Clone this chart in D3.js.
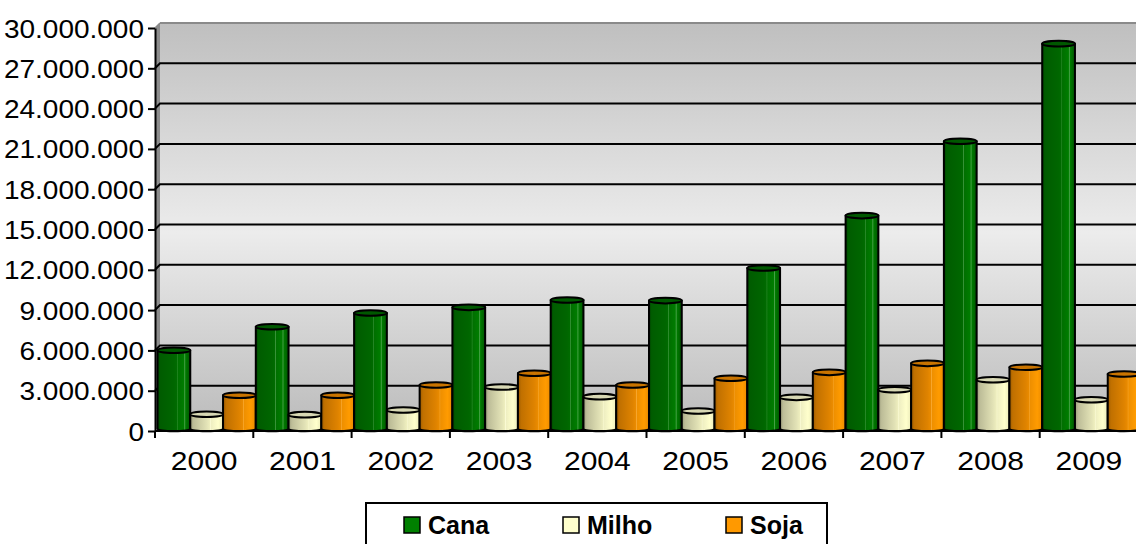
<!DOCTYPE html>
<html>
<head>
<meta charset="utf-8">
<script src="https://cdn.jsdelivr.net/npm/d3@7"></script>
<style>
  html, body { margin: 0; padding: 0; background: #fff; }
  svg { display: block; font-family: "Liberation Sans", Arial, sans-serif; }
</style>
</head>
<body>
<svg id="chart" width="1136" height="544"></svg>
<script>
// data
const years = ["2000", "2001", "2002", "2003", "2004", "2005", "2006", "2007", "2008", "2009"];
const series = ["Cana", "Milho", "Soja"];
const cana  = [5820000, 7580000, 8600000, 9020000, 9570000, 9520000, 11950000, 15850000, 21380000, 28650000];
const milho = [1060000, 1030000, 1380000, 3090000, 2370000, 1300000, 2320000, 2890000, 3630000, 2140000];
const soja  = [2470000, 2470000, 3240000, 4110000, 3240000, 3740000, 4180000, 4850000, 4560000, 4060000];
const yTicks = [0, 3000000, 6000000, 9000000, 12000000, 15000000, 18000000, 21000000, 24000000, 27000000, 30000000];

const values = [cana, milho, soja];
const colors = { Cana: "#008000", Milho: "#ffffcc", Soja: "#ff9900" };

const svg = d3.select("#chart");
const defs = svg.append("defs");

const plotLeft = 155, plotBottom = 431, plotTop = 28;
const depth = 5;          // 3D wall depth
const half = depth / 2;   // bars sit in the middle of the depth

const xScale = d3.scaleBand().domain(years).range([plotLeft, plotLeft + 98.3 * years.length]).padding(0);
const xSub = d3.scaleBand().domain(series).range([0, xScale.bandwidth()]).padding(0);
const yScale = d3.scaleLinear().domain([0, 30000000]).range([plotBottom, plotTop]);
const xEnd = xScale.range()[1];

const fmt = d3.formatLocale({ decimal: ",", thousands: ".", grouping: [3], currency: ["R$", ""] }).format(",.0f");

// back wall gradient
const wallGrad = defs.append("linearGradient").attr("id", "wall").attr("x1", 0).attr("y1", 0).attr("x2", 0).attr("y2", 1);
wallGrad.append("stop").attr("offset", 0).attr("stop-color", "#bfbfbf");
wallGrad.append("stop").attr("offset", 0.52).attr("stop-color", "#ececec");
wallGrad.append("stop").attr("offset", 1).attr("stop-color", "#bcbcbc");

// cylinder body gradients
const bodyStops = {
  Cana: [[0, "#003f00"], [0.08, "#005c00"], [0.5, "#006600"], [0.58, "#006b00"], [0.6, "#3b953b"], [0.62, "#006f00"],
         [0.8, "#007c00"], [0.83, "#45a045"], [0.86, "#007a00"], [0.95, "#006200"], [1, "#003f00"]],
  Milho: [[0, "#9c9c7c"], [0.1, "#bdbd98"], [0.5, "#e2e2b6"], [0.6, "#eeeebe"], [0.62, "#fafad4"], [0.64, "#efefc2"],
          [0.85, "#ffffcc"], [0.95, "#f2f2c0"], [1, "#b0b090"]],
  Soja: [[0, "#9a5a00"], [0.1, "#c07000"], [0.5, "#df8300"], [0.6, "#ea8b00"], [0.62, "#f8a830"], [0.64, "#ee8f00"],
         [0.85, "#ff9b00"], [0.95, "#f29000"], [1, "#b06a00"]]
};
series.forEach(s => {
  const g = defs.append("linearGradient").attr("id", "body_" + s).attr("x1", 0).attr("x2", 1).attr("y1", 0).attr("y2", 0);
  bodyStops[s].forEach(st => g.append("stop").attr("offset", st[0]).attr("stop-color", st[1]));
});
const topFill = { Cana: "#005800", Milho: "#d8d8b4", Soja: "#c97400" };

// walls
const g_walls = svg.append("g");
g_walls.append("rect")
  .attr("x", plotLeft + depth).attr("y", plotTop - depth)
  .attr("width", 1136 - plotLeft).attr("height", plotBottom - plotTop)
  .attr("fill", "url(#wall)");
// side wall
g_walls.append("path")
  .attr("d", `M${plotLeft},${plotTop} L${plotLeft + depth},${plotTop - depth} L${plotLeft + depth},${plotBottom - depth} L${plotLeft},${plotBottom} Z`)
  .attr("fill", "#8c8c8c");
// top edge
g_walls.append("line")
  .attr("x1", plotLeft + depth).attr("x2", 1136).attr("y1", plotTop - depth).attr("y2", plotTop - depth)
  .attr("stroke", "#8a8a8a").attr("stroke-width", 2);
g_walls.append("line")
  .attr("x1", plotLeft).attr("x2", plotLeft + depth).attr("y1", plotTop).attr("y2", plotTop - depth)
  .attr("stroke", "#8a8a8a").attr("stroke-width", 1.5);

// gridlines
svg.append("g").selectAll("path")
  .data(yTicks.filter(t => t > 0 && t < 30000000))
  .join("path")
  .attr("d", d => `M${plotLeft},${yScale(d)} L${plotLeft + depth},${yScale(d) - depth} L1136,${yScale(d) - depth}`)
  .attr("fill", "none")
  .attr("stroke", "#000")
  .attr("stroke-width", 2);

// bars (cylinders)
const rx = xSub.bandwidth() / 2;
const ry = 2.8;
const bars = [];
years.forEach((yr, i) => {
  series.forEach((s, j) => {
    bars.push({ year: yr, serie: s, value: values[j][i] });
  });
});

const g_bars = svg.append("g");
const bar = g_bars.selectAll(".bar").data(bars).join("g").attr("class", "bar");

function barGeom(d) {
  const x0 = xScale(d.year) + xSub(d.serie) + half;
  const x1 = x0 + xSub.bandwidth();
  const yb = yScale(0) - half;
  const yt = yScale(d.value) - half;
  return { x0, x1, yb, yt, cx: (x0 + x1) / 2 };
}

bar.append("path")
  .attr("d", d => {
    const b = barGeom(d);
    return `M${b.x0},${b.yt} L${b.x0},${b.yb} A${rx},${ry} 0 0 0 ${b.x1},${b.yb} L${b.x1},${b.yt} Z`;
  })
  .attr("fill", d => `url(#body_${d.serie})`)
  .attr("stroke", "#000")
  .attr("stroke-width", 2)
  .attr("stroke-linejoin", "round");

bar.append("ellipse")
  .attr("cx", d => barGeom(d).cx)
  .attr("cy", d => barGeom(d).yt)
  .attr("rx", rx)
  .attr("ry", ry)
  .attr("fill", d => topFill[d.serie])
  .attr("stroke", "#000")
  .attr("stroke-width", 2);

// y axis
const y_axis = d3.axisLeft(yScale).tickValues(yTicks).tickFormat(fmt).tickSize(7).tickSizeOuter(0);
const g_y = svg.append("g").attr("transform", `translate(${plotLeft},0)`).call(y_axis);
g_y.select(".domain").attr("stroke", "#000").attr("stroke-width", 2);
g_y.selectAll(".tick line").attr("stroke", "#000").attr("stroke-width", 2);
g_y.selectAll(".tick text")
  .attr("x", 0).attr("dy", null)
  .attr("fill", "#000")
  .style("font-size", "25px")
  .attr("transform", "translate(-11,9) scale(1.12,1)");

// x axis
const g_x = svg.append("g");
g_x.append("line")
  .attr("x1", plotLeft).attr("x2", 1136).attr("y1", plotBottom).attr("y2", plotBottom)
  .attr("stroke", "#000").attr("stroke-width", 2);
g_x.selectAll(".xtick").data(years.map(y => xScale(y)).concat([xEnd]))
  .join("line").attr("class", "xtick")
  .attr("x1", d => d).attr("x2", d => d)
  .attr("y1", plotBottom).attr("y2", plotBottom + 7)
  .attr("stroke", "#000").attr("stroke-width", 2);
g_x.selectAll(".xlabel").data(years)
  .join("text").attr("class", "xlabel")
  .attr("text-anchor", "middle")
  .attr("transform", d => `translate(${xScale(d) + xScale.bandwidth() / 2},470) scale(1.2,1)`)
  .style("font-size", "25px")
  .attr("fill", "#000")
  .text(d => d);

// legend
const g_leg = svg.append("g");
g_leg.append("rect")
  .attr("x", 366).attr("y", 503).attr("width", 461).attr("height", 50)
  .attr("fill", "#fff").attr("stroke", "#000").attr("stroke-width", 2);
const legX = { Cana: 404, Milho: 563, Soja: 726 };
const item = g_leg.selectAll(".leg").data(series).join("g").attr("class", "leg")
  .attr("transform", d => `translate(${legX[d]},517)`);
item.append("rect")
  .attr("width", 16).attr("height", 16)
  .attr("fill", d => colors[d])
  .attr("stroke", "#000").attr("stroke-width", 1.5);
item.append("text")
  .attr("x", 24).attr("y", 17)
  .style("font-size", "25px").style("font-weight", "bold")
  .attr("fill", "#000")
  .text(d => d);
</script>
</body>
</html>
